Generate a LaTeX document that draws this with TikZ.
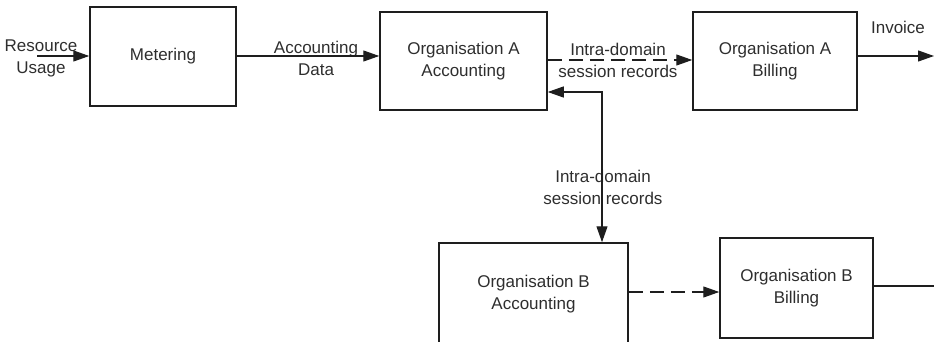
\documentclass[tikz,border=0pt]{standalone}
\usepackage{fontspec}
\setsansfont{Liberation Sans}
\usetikzlibrary{arrows.meta, positioning, calc}
\definecolor{cink}{HTML}{1E1E1E}
\definecolor{ctext}{HTML}{2E2E2E}
\tikzset{
  every picture/.style={font=\sffamily\fontsize{17}{22}\selectfont, line width=1.2pt},
  box/.style={draw=cink, line width=1.5pt, align=center, text=ctext, inner sep=0pt},
  tip/.style={Triangle[length=16pt, width=11pt]},
  arrow/.style={-{Triangle[length=16pt, width=11pt]}, draw=cink},
  dasharrow/.style={arrow, dash pattern=on 14pt off 7pt},
  tag/.style={align=center, text=ctext, inner sep=0pt},
}

\begin{document}
\begin{tikzpicture}[x=1pt, y=-1pt]
  \useasboundingbox (0,0) rectangle (934,342);
  % boxes, centred on the reference pixel grid
  \node[box, minimum width=146pt, minimum height=99pt] (meter) at (163,56.5) {Metering};
  \node[box, minimum width=167pt, minimum height=98pt] (accA) at (463.5,61) {Organisation A\\Accounting};
  \node[box, minimum width=164pt, minimum height=98pt] (billA) at (775,61) {Organisation A\\Billing};
  \node[box, minimum width=189pt, minimum height=102pt] (accB) at (533.5,294) {Organisation B\\Accounting};
  \node[box, minimum width=153pt, minimum height=100pt] (billB) at (796.5,288) {Organisation B\\Billing};
  % free ends
  \coordinate (src) at (37,56);
  \coordinate (inv) at (934,56);
  \coordinate (outB) at (934,286);
  \coordinate (drop) at (602,92);
  % labels
  \node[tag] (usage) at (41,58) {Resource\\Usage};
  \node[tag] (data) at (316,58) {Accounting\\Data};
  \node[tag] (recA) at (618,60) {Intra-domain\\session records};
  \node[tag] (invoice) at (898,27) {Invoice};
  \node[tag] (recB) at (603,187) {Intra-domain\\session records};
  % connectors
  \draw[arrow] (src) -- (meter.west |- src);
  \draw[arrow] (meter.east |- src) -- (accA.west |- src);
  \draw[dasharrow] (accA.east |- recA) -- (billA.west |- recA);
  \draw[arrow] (billA.east |- inv) -- (inv);
  \draw[arrow, {Triangle[length=16pt, width=11pt]}-{Triangle[length=16pt, width=11pt]}]
    (accA.east |- drop) -- (drop) -- (drop |- accB.north);
  \draw[dasharrow] (accB.east |- 0,292) -- (billB.west |- 0,292);
  \draw[cink] (billB.east |- outB) -- (outB);
\end{tikzpicture}
\end{document}
